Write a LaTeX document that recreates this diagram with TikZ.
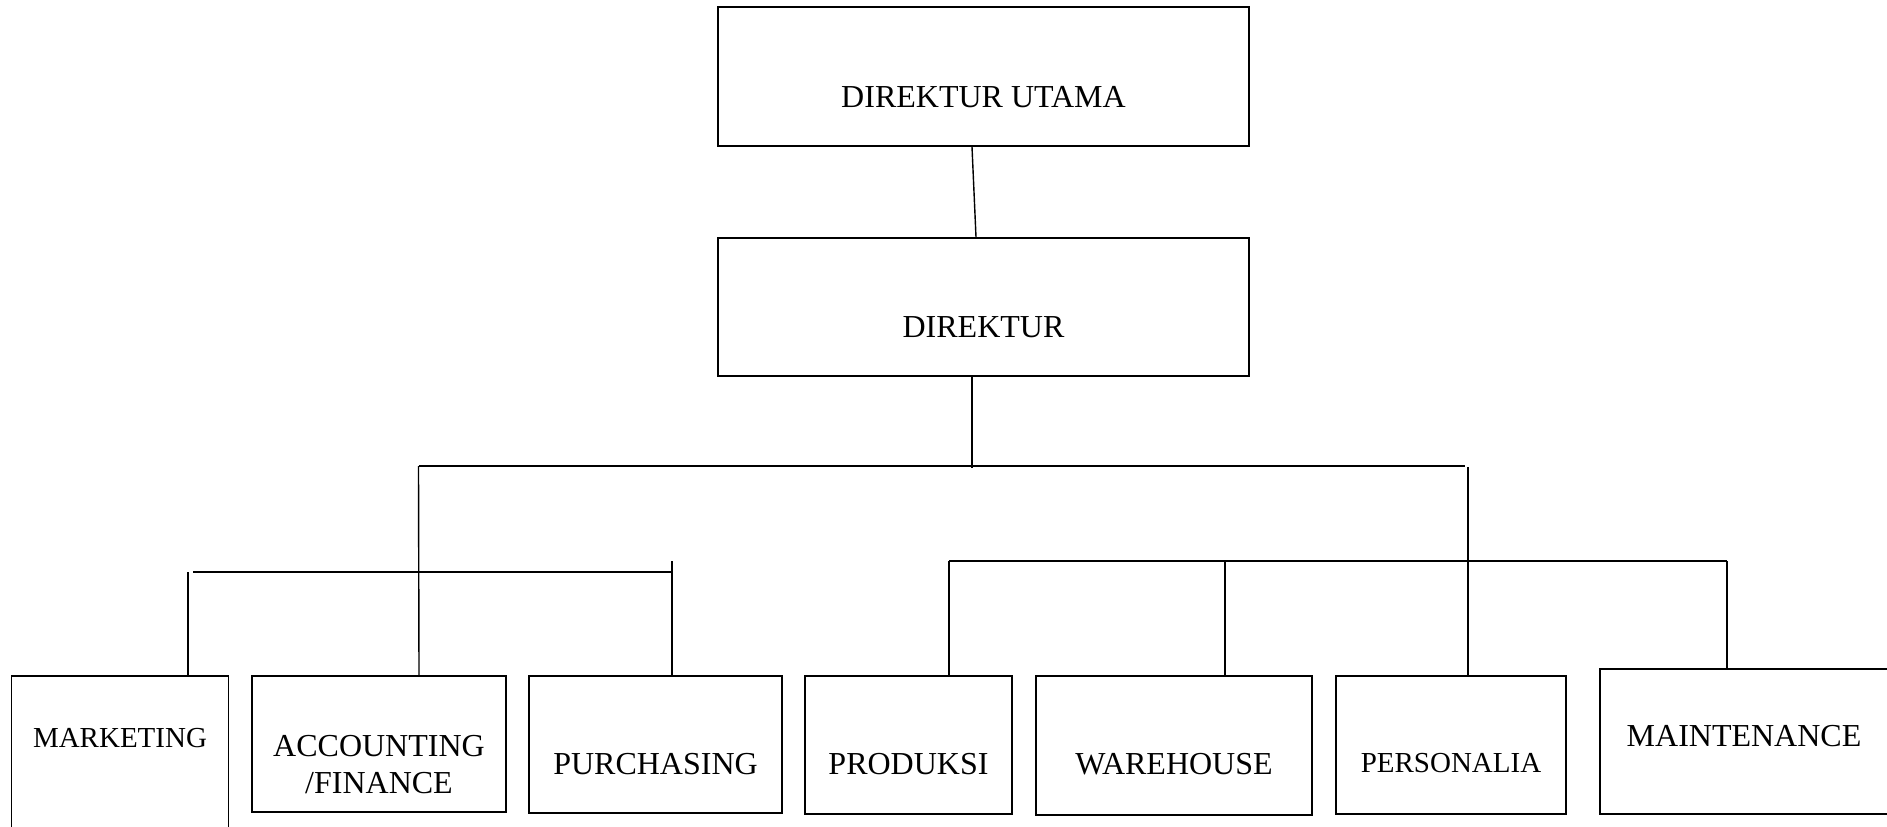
\documentclass[tikz,border=0pt]{standalone}
\usepackage{fontspec}
\setmainfont{Liberation Serif}
\begin{document}
\begin{tikzpicture}[x=1pt,y=-1pt,
  box/.style={draw, line width=1.8pt, inner sep=0pt, fill=none},
  lbl/.style={anchor=base, inner sep=0pt, font=\fontsize{32}{37}\selectfont},
  lblsm/.style={anchor=base, inner sep=0pt, font=\fontsize{29}{34}\selectfont},
  conn/.style={line width=1.4pt},
  bus/.style={line width=2pt}]
\useasboundingbox (0,0) rectangle (1887,827);
\fill[white] (0,0) rectangle (1887,827);
% boxes
\node[box, minimum width=531pt, minimum height=139pt] (dirut) at (983.5,76.5) {};
\node[box, minimum width=531pt, minimum height=138pt] (dir) at (983.5,307) {};
\node[box, minimum width=217pt, minimum height=204pt] (mkt) at (120,778) {};
\node[box, minimum width=254pt, minimum height=136pt] (acc) at (379,744) {};
\node[box, minimum width=253pt, minimum height=137pt] (pur) at (655.5,744.5) {};
\node[box, minimum width=207pt, minimum height=138pt] (pro) at (908.5,745) {};
\node[box, minimum width=276pt, minimum height=139pt] (war) at (1174,745.5) {};
\node[box, minimum width=230pt, minimum height=138pt] (per) at (1451,745) {};
\node[box, minimum width=310pt, minimum height=145pt] (mai) at (1755,741.5) {};
% texts
\node[lbl] (tdirut) at (983.5,107) {DIREKTUR UTAMA};
\node[lbl] (tdir) at (983.5,337) {DIREKTUR};
\node[lblsm] (tmkt) at (120,747) {MARKETING};
\node[lbl] (tacc1) at (379,756) {ACCOUNTING};
\node[lbl] (tacc2) at (379,793) {/FINANCE};
\node[lbl] (tpur) at (655.5,774) {PURCHASING};
\node[lbl] (tpro) at (908.5,774) {PRODUKSI};
\node[lbl] (twar) at (1174,774) {WAREHOUSE};
\node[lblsm] (tper) at (1451,772) {PERSONALIA};
\node[lbl] (tmai) at (1744,746) {MAINTENANCE};
% bus coordinates
\coordinate (b1L) at (418.5,466);
\coordinate (b1R) at (1465,466);
\coordinate (b1D) at (972,468);
\coordinate (b1V) at (1468,467);
\coordinate (b2L) at (193,572);
\coordinate (b2R) at (672,572);
\coordinate (b2M) at (188,572);
\coordinate (b2P) at (672,561);
\coordinate (b3L) at (949,561);
\coordinate (b3R) at (1727,561);
\coordinate (b3W) at (1225,561);
% connectors
\draw[conn] ([xshift=-11.5pt]dirut.south) -- ([xshift=-7.5pt]dir.north);
\draw[conn] ([xshift=-11.5pt]dir.south) -- (b1D);
\draw[bus] (b1L) -- (b1R);
\draw[conn] (b1L) -- ([xshift=40pt]acc.north);
\draw[conn] (b1V) -- ([xshift=17pt]per.north);
\draw[bus] (b2L) -- (b2R);
\draw[conn] (b2M) -- ([xshift=68pt]mkt.north);
\draw[conn] (b2P) -- ([xshift=16.5pt]pur.north);
\draw[bus] (b3L) -- (b3R);
\draw[conn] (b3L) -- ([xshift=40.5pt]pro.north);
\draw[conn] (b3W) -- ([xshift=51pt]war.north);
\draw[conn] (b3R) -- ([xshift=-28pt]mai.north);
\end{tikzpicture}
\end{document}
